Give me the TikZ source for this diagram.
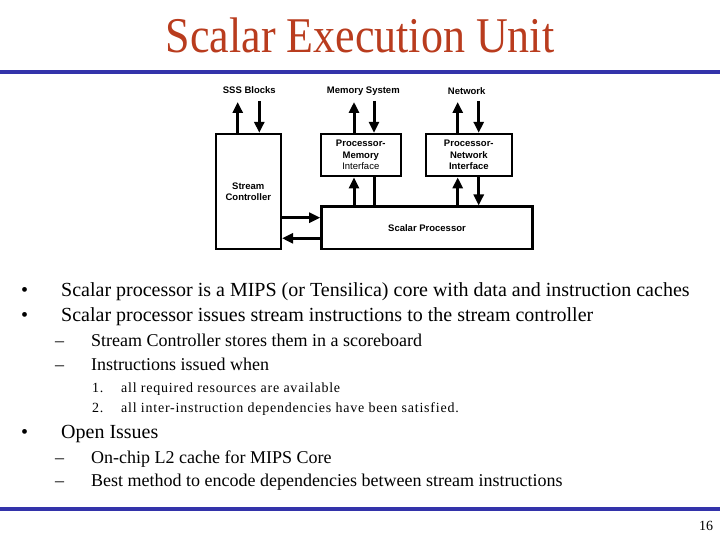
\documentclass[tikz,border=0pt]{standalone}
\usepackage{fontspec}
\usepackage{graphicx}
\setmainfont{Liberation Serif}
\newfontfamily\diagfont{Liberation Sans}
\newfontfamily\spacedfont[LetterSpace=5.5]{Liberation Serif}
\usetikzlibrary{arrows.meta}
\definecolor{titlered}{RGB}{185,60,30}
\definecolor{rulebl}{RGB}{51,51,170}
\begin{document}
\begin{tikzpicture}[
  x=1pt, y=-1pt,
  blk/.style={rectangle, draw, line width=2.6pt, align=center, inner sep=0pt,
    font=\diagfont\fontsize{9.5}{11.5}\selectfont\bfseries},
  lbl/.style={font=\diagfont\fontsize{9.5}{11.5}\selectfont\bfseries, inner sep=0pt},
  a/.style={line width=3pt, -{Triangle[length=11pt,width=10pt]}},
  ln/.style={line width=3pt},
  txt/.style={anchor=base west, inner sep=0pt},
  big/.style={txt, font=\fontsize{20}{22}\selectfont},
  mid/.style={txt, font=\fontsize{18}{20}\selectfont},
  sml/.style={txt, font=\spacedfont\fontsize{14}{16}\selectfont},
  rl/.style={line width=4pt, rulebl}
]
\useasboundingbox (0,0) rectangle (720,540);
% title and rules
\node[anchor=base, inner sep=0pt, text=titlered] (title) at (360,53)
  {\scalebox{0.88}[1]{\fontsize{50}{50}\selectfont Scalar Execution Unit}};
\coordinate (tl) at (0,72);
\coordinate (tr) at (720,72);
\draw[rl] (tl) -- (tr);
\coordinate (bl) at (0,509);
\coordinate (br) at (720,509);
\draw[rl] (bl) -- (br);
% blocks
\node[blk, minimum width=65pt, minimum height=115pt] (sc) at (248.3,191.6) {Stream\\Controller};
\node[blk, minimum width=80pt, minimum height=42pt] (pmi) at (360.8,155.1)
  {Processor-\\Memory\\\mdseries Interface};
\node[blk, minimum width=86pt, minimum height=42pt] (pni) at (468.8,155.1)
  {Processor-\\Network\\Interface};
\node[blk, minimum width=211pt, minimum height=42pt] (sp) at (427,227.8) {Scalar Processor};
% outside labels
\node[lbl] (sss) at (249.3,90) {SSS Blocks};
\node[lbl] (mem) at (363.3,90.7) {Memory System};
\node[lbl] (net) at (466.7,90.7) {Network};
\coordinate (sssup) at (237.7,102);
\coordinate (sssdn) at (259.3,101);
\coordinate (memup) at (354,102);
\coordinate (memdn) at (374,101);
\coordinate (netup) at (457.7,102);
\coordinate (netdn) at (478.7,101);
\coordinate (scsp) at (0,217.7);
\coordinate (spsc) at (0,238.3);
% connectors
\draw[a] (sc.north -| sssup) -- (sssup);
\draw[a] (sssdn) -- (sc.north -| sssdn);
\draw[a] (pmi.north -| memup) -- (memup);
\draw[a] (memdn) -- (pmi.north -| memdn);
\draw[a] (pni.north -| netup) -- (netup);
\draw[a] (netdn) -- (pni.north -| netdn);
\draw[a] (sp.north -| memup) -- (pmi.south -| memup);
\draw[ln] (sp.north -| memdn) -- (pmi.south -| memdn);
\draw[a] (sp.north -| netup) -- (pni.south -| netup);
\draw[a] (pni.south -| netdn) -- (sp.north -| netdn);
\draw[a] (sc.east |- scsp) -- (sp.west |- scsp);
\draw[a] (sp.west |- spsc) -- (sc.east |- spsc);
% bullet text
\node[big] (b1) at (21,296.7) {•};
\node[big] (t1) at (61,296.7)
  {Scalar processor is a MIPS (or Tensilica) core with data and instruction caches};
\node[big] (b2) at (21,321.7) {•};
\node[big] (t2) at (61,321.7)
  {Scalar processor issues stream instructions to the stream controller};
\node[mid] (d1) at (55,346.7) {–};
\node[mid] (s1) at (91,346.7) {Stream Controller stores them in a scoreboard};
\node[mid] (d2) at (55,370) {–};
\node[mid] (s2) at (91,370) {Instructions issued when};
\node[sml] (n1) at (92,392.7) {1.};
\node[sml] (m1) at (121,392.7) {all required resources are available};
\node[sml] (n2) at (92,412.7) {2.};
\node[sml] (m2) at (121,412.7) {all inter-instruction dependencies have been satisfied.};
\node[big] (b3) at (21,438.3) {•};
\node[big] (t3) at (61,438.3) {Open Issues};
\node[mid] (d3) at (55,463.3) {–};
\node[mid] (s3) at (91,463.3) {On-chip L2 cache for MIPS Core};
\node[mid] (d4) at (55,486.7) {–};
\node[mid] (s4) at (91,486.7)
  {Best method to encode dependencies between stream instructions};
\node[txt, font=\fontsize{14}{16}\selectfont] (pg) at (699,530) {16};
\end{tikzpicture}
\end{document}
